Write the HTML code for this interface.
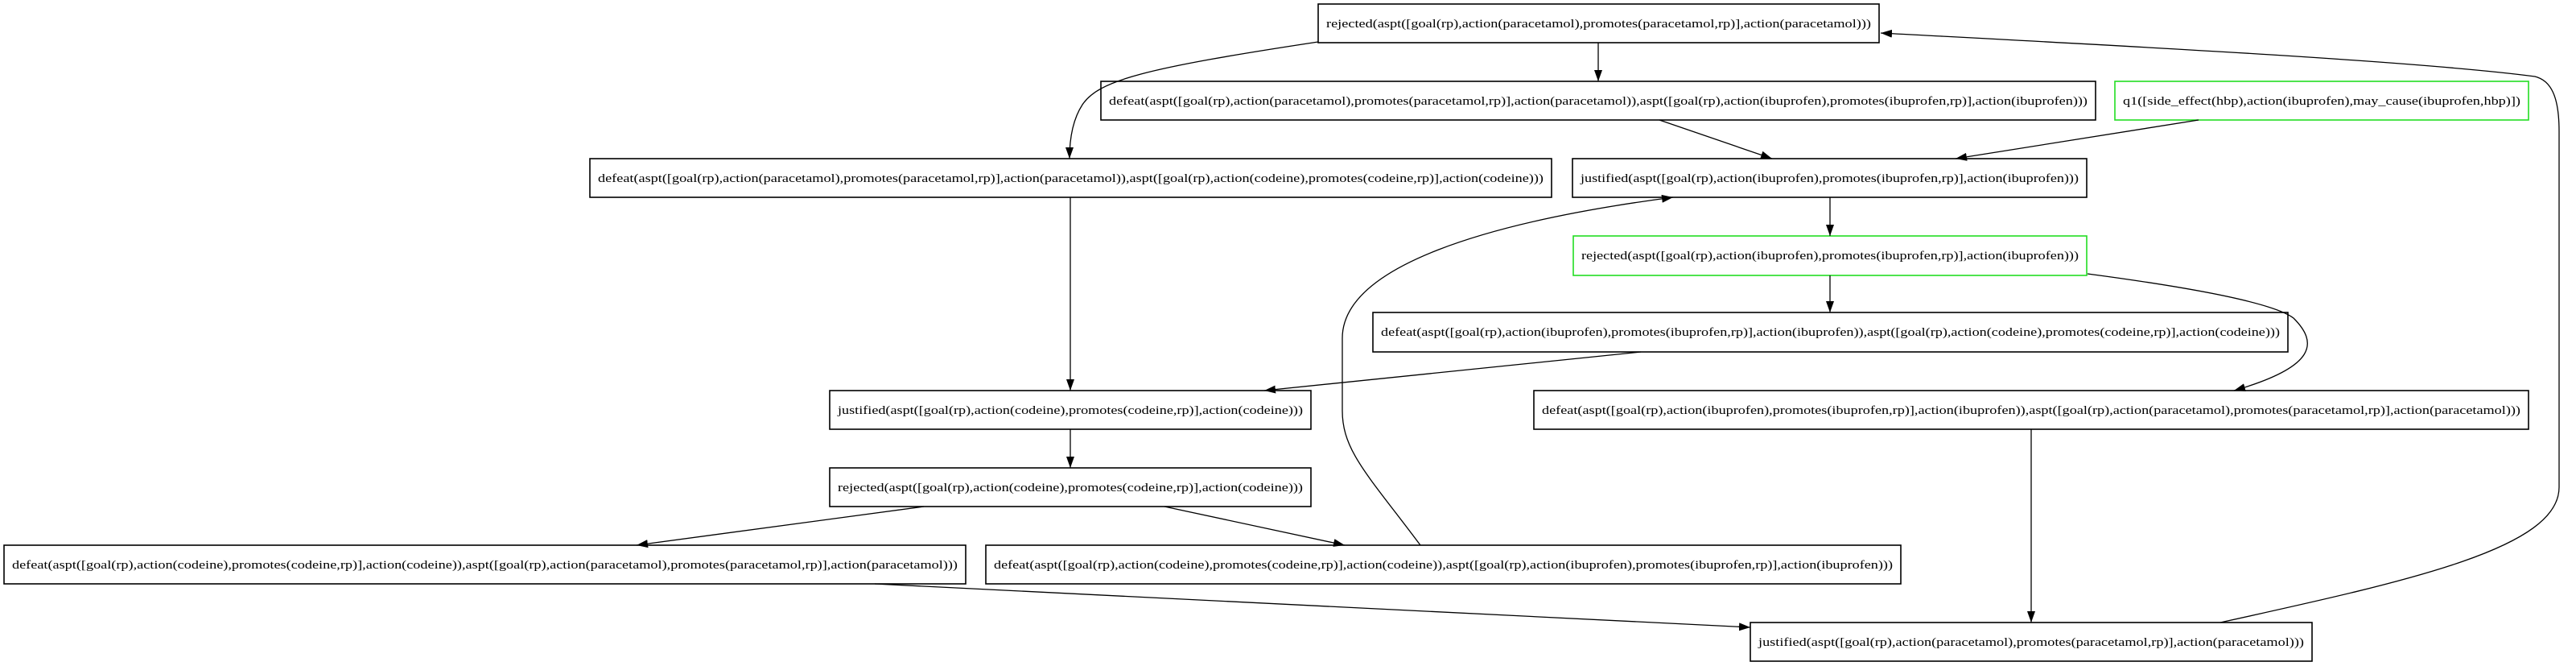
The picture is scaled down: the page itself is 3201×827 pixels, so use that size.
<!DOCTYPE html>
<html><head><meta charset="utf-8"><style>
html,body{margin:0;padding:0;background:#fff;}
svg{display:block;}
text{font-family:"Liberation Serif",serif;font-size:15px;fill:#000;}
</style></head><body>
<svg width="3201" height="827" viewBox="0 0 3201 827" xmlns="http://www.w3.org/2000/svg">
<defs>
<marker id="a" viewBox="0 0 14 10" refX="14" refY="5" markerWidth="14" markerHeight="10" markerUnits="userSpaceOnUse" orient="auto">
<path d="M0,0 L14,5 L0,10 z" fill="#000"/>
</marker>
</defs>
<g fill="#fff" stroke-width="1.6">
<rect x="1638" y="5" width="697" height="48" stroke="#000"/>
<rect x="1368" y="101" width="1236" height="48" stroke="#000"/>
<rect x="2628" y="101" width="514" height="48" stroke="#22dd22"/>
<rect x="733" y="197" width="1195" height="48" stroke="#000"/>
<rect x="1954" y="197" width="639" height="48" stroke="#000"/>
<rect x="1955" y="293" width="638" height="49" stroke="#22dd22"/>
<rect x="1706" y="388" width="1137" height="49" stroke="#000"/>
<rect x="1031" y="485" width="598" height="48" stroke="#000"/>
<rect x="1906" y="485" width="1236" height="48" stroke="#000"/>
<rect x="1031" y="581" width="598" height="48" stroke="#000"/>
<rect x="5" y="677" width="1195" height="48" stroke="#000"/>
<rect x="1225" y="677" width="1137" height="48" stroke="#000"/>
<rect x="2175" y="773" width="698" height="48" stroke="#000"/>
</g>
<g fill="none" stroke="#000" stroke-width="1.3">
<path d="M1986,53 L1986,101" marker-end="url(#a)"/>
<path d="M1638,52 C1420,85 1365,100 1345,130 C1332,150 1329,175 1329,197" marker-end="url(#a)"/>
<path d="M2062,149 L2202,197" marker-end="url(#a)"/>
<path d="M2732,149 L2430,197" marker-end="url(#a)"/>
<path d="M1330,245 L1330,485" marker-end="url(#a)"/>
<path d="M2274,245 L2274,293" marker-end="url(#a)"/>
<path d="M2274,342 L2274,388" marker-end="url(#a)"/>
<path d="M2594,340 C2760,362 2830,380 2850,395 C2880,425 2880,455 2776,485" marker-end="url(#a)"/>
<path d="M2039,437 L1571,485" marker-end="url(#a)"/>
<path d="M1330,533 L1330,581" marker-end="url(#a)"/>
<path d="M1148,629 L791,677" marker-end="url(#a)"/>
<path d="M1447,629 L1671,677" marker-end="url(#a)"/>
<path d="M1765,677 C1700,590 1668,560 1668,510 L1668,420 C1668,330 1850,275 2079,245" marker-end="url(#a)"/>
<path d="M1087,725 L2175,779" marker-end="url(#a)"/>
<path d="M2524,533 L2524,773" marker-end="url(#a)"/>
<path d="M2759,773 C3000,720 3180,680 3180,605 L3180,163 C3180,120 3170,100 3150,95 C3000,75 2600,55 2337,41" marker-end="url(#a)"/>
</g>
<g text-anchor="start" dominant-baseline="central">
<text x="1648" y="30" textLength="677" lengthAdjust="spacingAndGlyphs">rejected(aspt([goal(rp),action(paracetamol),promotes(paracetamol,rp)],action(paracetamol)))</text>
<text x="1378" y="126" textLength="1216" lengthAdjust="spacingAndGlyphs">defeat(aspt([goal(rp),action(paracetamol),promotes(paracetamol,rp)],action(paracetamol)),aspt([goal(rp),action(ibuprofen),promotes(ibuprofen,rp)],action(ibuprofen)))</text>
<text x="2638" y="126" textLength="494" lengthAdjust="spacingAndGlyphs">q1([side_effect(hbp),action(ibuprofen),may_cause(ibuprofen,hbp)])</text>
<text x="743" y="222" textLength="1175" lengthAdjust="spacingAndGlyphs">defeat(aspt([goal(rp),action(paracetamol),promotes(paracetamol,rp)],action(paracetamol)),aspt([goal(rp),action(codeine),promotes(codeine,rp)],action(codeine)))</text>
<text x="1964" y="222" textLength="619" lengthAdjust="spacingAndGlyphs">justified(aspt([goal(rp),action(ibuprofen),promotes(ibuprofen,rp)],action(ibuprofen)))</text>
<text x="1965" y="318" textLength="618" lengthAdjust="spacingAndGlyphs">rejected(aspt([goal(rp),action(ibuprofen),promotes(ibuprofen,rp)],action(ibuprofen)))</text>
<text x="1716" y="413" textLength="1117" lengthAdjust="spacingAndGlyphs">defeat(aspt([goal(rp),action(ibuprofen),promotes(ibuprofen,rp)],action(ibuprofen)),aspt([goal(rp),action(codeine),promotes(codeine,rp)],action(codeine)))</text>
<text x="1041" y="510" textLength="578" lengthAdjust="spacingAndGlyphs">justified(aspt([goal(rp),action(codeine),promotes(codeine,rp)],action(codeine)))</text>
<text x="1916" y="510" textLength="1216" lengthAdjust="spacingAndGlyphs">defeat(aspt([goal(rp),action(ibuprofen),promotes(ibuprofen,rp)],action(ibuprofen)),aspt([goal(rp),action(paracetamol),promotes(paracetamol,rp)],action(paracetamol)))</text>
<text x="1041" y="606" textLength="578" lengthAdjust="spacingAndGlyphs">rejected(aspt([goal(rp),action(codeine),promotes(codeine,rp)],action(codeine)))</text>
<text x="15" y="702" textLength="1175" lengthAdjust="spacingAndGlyphs">defeat(aspt([goal(rp),action(codeine),promotes(codeine,rp)],action(codeine)),aspt([goal(rp),action(paracetamol),promotes(paracetamol,rp)],action(paracetamol)))</text>
<text x="1235" y="702" textLength="1117" lengthAdjust="spacingAndGlyphs">defeat(aspt([goal(rp),action(codeine),promotes(codeine,rp)],action(codeine)),aspt([goal(rp),action(ibuprofen),promotes(ibuprofen,rp)],action(ibuprofen)))</text>
<text x="2185" y="798" textLength="678" lengthAdjust="spacingAndGlyphs">justified(aspt([goal(rp),action(paracetamol),promotes(paracetamol,rp)],action(paracetamol)))</text>
</g>
</svg>
</body></html>
